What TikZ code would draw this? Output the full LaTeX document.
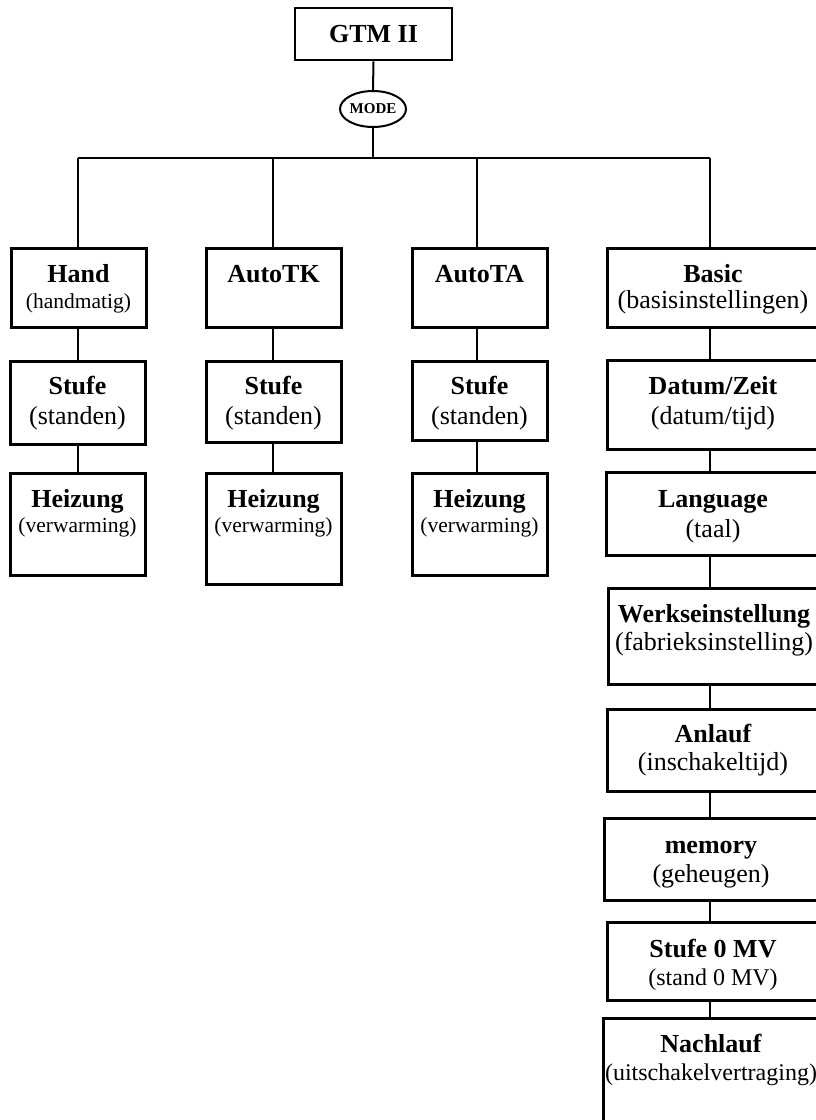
\documentclass[tikz,border=0pt]{standalone}
\usepackage{fontspec}
\setmainfont{Liberation Serif}
\usetikzlibrary{shapes.geometric}
\newcommand\mkbox[5]{\node[boxframe, minimum width={#4-#2}, minimum height={#5-#3}] (#1) at ({(#2+#4)/2},{(#3+#5)/2}) {};}
\begin{document}
\begin{tikzpicture}[x=1pt,y=-1pt,
  boxframe/.style={draw, line width=3pt, rectangle, inner sep=0pt},
  link/.style={draw, line width=2pt},
  ttext/.style={anchor=base, inner sep=0pt, font=\fontsize{26}{30}\selectfont\bfseries},
  stext/.style={anchor=base, inner sep=0pt, font=\fontsize{26}{30}\selectfont},
  stextsmall/.style={anchor=base, inner sep=0pt, font=\fontsize{21.5}{25}\selectfont},
  stextmid/.style={anchor=base, inner sep=0pt, font=\fontsize{24}{28}\selectfont},
]
\useasboundingbox (0,0) rectangle (816,1120);
\clip (0,0) rectangle (816,1120);

% top
\node[boxframe, line width=2.6pt, minimum width=157, minimum height=52,
      font=\fontsize{26}{30}\selectfont\bfseries] (gtm) at (373.5,34) {GTM II};
\node[draw, ellipse, line width=2pt, minimum width=59, minimum height=36, inner sep=0pt,
      font=\fontsize{15}{18}\selectfont\bfseries] (mode) at (373,109) {MODE};
\coordinate (barL) at (78,158);
\coordinate (barM) at (373,158);
\coordinate (barR) at (710,158);
\coordinate (colA) at (78,0);
\coordinate (colB) at (273,0);
\coordinate (colC) at (477,0);
\coordinate (spine) at (710,0);

% column 1
\mkbox{hand}{11}{248}{146}{327}
\mkbox{stufeA}{10}{361}{145}{444}
\mkbox{heizA}{10}{473}{145}{575}
% column 2
\mkbox{autotk}{206}{248}{341}{327}
\mkbox{stufeB}{206}{361}{341}{442}
\mkbox{heizB}{206}{473}{341}{584}
% column 3
\mkbox{autota}{412}{248}{547}{327}
\mkbox{stufeC}{412}{361}{547}{440}
\mkbox{heizC}{412}{473}{547}{575}
% column 4
\mkbox{basic}{607}{248}{819}{327}
\mkbox{datum}{607}{360}{819}{449}
\mkbox{lang}{606}{472}{819}{555}
\mkbox{werks}{608}{588}{819}{684}
\mkbox{anlauf}{607}{709}{819}{791}
\mkbox{memory}{604}{818}{819}{900}
\mkbox{stufenull}{607}{922}{819}{1000}
\mkbox{nachlauf}{603}{1018}{819}{1130}

% texts column 1
\node[ttext] (t1) at (78.5,282) {Hand};
\node[stextsmall] (s1) at (78.5,308) {(handmatig)};
\node[ttext] (t2) at (77.5,394) {Stufe};
\node[stext] (s2) at (77.5,424) {(standen)};
\node[ttext] (t3) at (77.5,507) {Heizung};
\node[stextsmall] (s3) at (77.5,532) {(verwarming)};
% texts column 2
\node[ttext] (t4) at (273.5,282) {AutoTK};
\node[ttext] (t5) at (273.5,394) {Stufe};
\node[stext] (s5) at (273.5,424) {(standen)};
\node[ttext] (t6) at (273.5,507) {Heizung};
\node[stextsmall] (s6) at (273.5,532) {(verwarming)};
% texts column 3
\node[ttext] (t7) at (479.5,282) {AutoTA};
\node[ttext] (t8) at (479.5,394) {Stufe};
\node[stext] (s8) at (479.5,424) {(standen)};
\node[ttext] (t9) at (479.5,507) {Heizung};
\node[stextsmall] (s9) at (479.5,532) {(verwarming)};
% texts column 4
\node[ttext] (t10) at (713,282) {Basic};
\node[stext] (s10) at (713,308) {(basisinstellingen)};
\node[ttext] (t11) at (713,394) {Datum/Zeit};
\node[stext] (s11) at (713,424) {(datum/tijd)};
\node[ttext] (t12) at (713,507) {Language};
\node[stext] (s12) at (713,537) {(taal)};
\node[ttext] (t13) at (714,622) {Werkseinstellung};
\node[stext] (s13) at (714,650) {(fabrieksinstelling)};
\node[ttext] (t14) at (713,742) {Anlauf};
\node[stext] (s14) at (713,770) {(inschakeltijd)};
\node[ttext] (t15) at (711,853) {memory};
\node[stext] (s15) at (711,882) {(geheugen)};
\node[ttext] (t16) at (713,957) {Stufe 0 MV};
\node[stextmid] (s16) at (713,985) {(stand 0 MV)};
\node[ttext] (t17) at (711,1052) {Nachlauf};
\node[stextmid] (s17) at (711,1080) {(uitschakelvertraging)};

% connectors
\draw[link] (gtm.south) -- (mode.north);
\draw[link] (mode.south) -- (barM);
\draw[link] (barL) -- (barR);
\draw[link] (barL) -- (colA |- hand.north);
\draw[link] (colB |- barL) -- (colB |- autotk.north);
\draw[link] (colC |- barL) -- (colC |- autota.north);
\draw[link] (barR) -- (spine |- basic.north);

\draw[link] (colA |- hand.south) -- (colA |- stufeA.north);
\draw[link] (colA |- stufeA.south) -- (colA |- heizA.north);
\draw[link] (colB |- autotk.south) -- (colB |- stufeB.north);
\draw[link] (colB |- stufeB.south) -- (colB |- heizB.north);
\draw[link] (colC |- autota.south) -- (colC |- stufeC.north);
\draw[link] (colC |- stufeC.south) -- (colC |- heizC.north);

\draw[link] (spine |- basic.south) -- (spine |- datum.north);
\draw[link] (spine |- datum.south) -- (spine |- lang.north);
\draw[link] (spine |- lang.south) -- (spine |- werks.north);
\draw[link] (spine |- werks.south) -- (spine |- anlauf.north);
\draw[link] (spine |- anlauf.south) -- (spine |- memory.north);
\draw[link] (spine |- memory.south) -- (spine |- stufenull.north);
\draw[link] (spine |- stufenull.south) -- (spine |- nachlauf.north);
\end{tikzpicture}
\end{document}
